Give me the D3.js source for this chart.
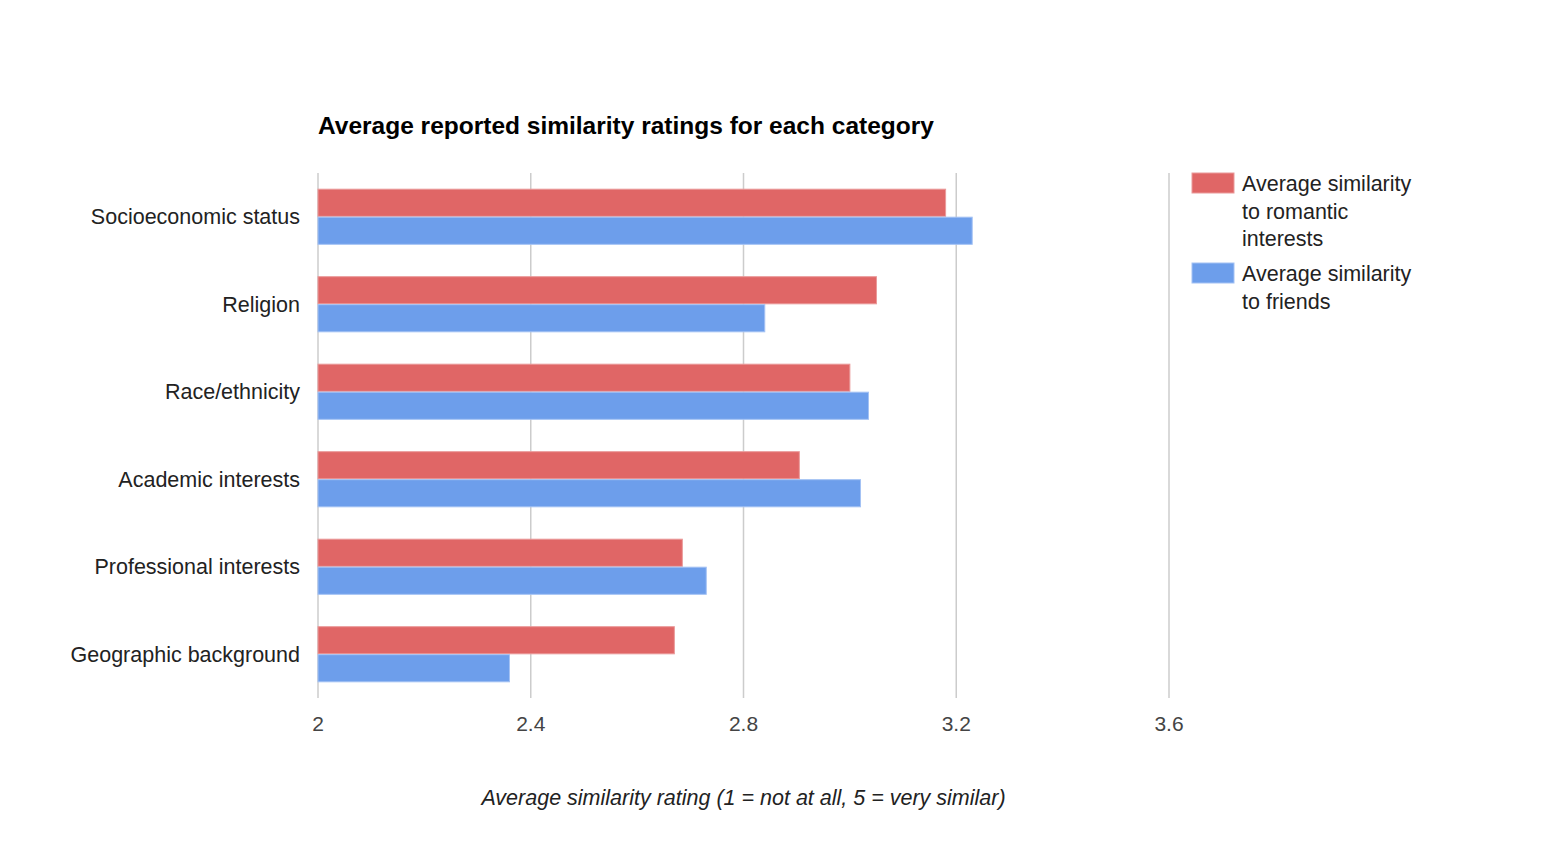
<!DOCTYPE html>
<html>
<head>
<meta charset="utf-8">
<script src="https://cdn.jsdelivr.net/npm/d3@7"></script>
<style>
  body { margin: 0; background: #fff; }
  text { font-family: "Liberation Sans", Arial, sans-serif; }
</style>
</head>
<body>
<svg id="chart"></svg>
<script>
// data
const categories = ["Socioeconomic status", "Religion", "Race/ethnicity",
    "Academic interests", "Professional interests", "Geographic background"];
const romantic = [3.18, 3.05, 3.00, 2.905, 2.685, 2.67];
const friends = [3.23, 2.84, 3.035, 3.02, 2.73, 2.36];
const seriesNames = ["Average similarity to romantic interests", "Average similarity to friends"];
const legendLines = [["Average similarity", "to romantic", "interests"], ["Average similarity", "to friends"]];
const xTicks = [2, 2.4, 2.8, 3.2, 3.6];
const colors = ["#e06666", "#6d9eeb"];
const strokes = ["#ea9a9a", "#a4c2f4"];

const width = 1560, height = 864;
const plotLeft = 318, plotRight = 1169, plotTop = 173, plotBottom = 698;

const svg = d3.select("#chart").attr("width", width).attr("height", height);

const x = d3.scaleLinear().domain([2, 3.6]).range([plotLeft, plotRight]);
const y = d3.scaleBand().domain(categories).range([plotTop, plotBottom])
    .paddingInner(0.37).paddingOuter(0.185);
const ySub = d3.scaleBand().domain([0, 1]).range([0, y.bandwidth()]).paddingInner(0.03);

// gridlines
svg.append("g").selectAll("line").data(xTicks).enter().append("line")
    .attr("x1", d => x(d)).attr("x2", d => x(d))
    .attr("y1", plotTop).attr("y2", plotBottom)
    .attr("stroke", "#cccccc").attr("stroke-width", 1.5);

// bars
const rows = categories.map((c, i) => ({cat: c, vals: [romantic[i], friends[i]]}));
const groups = svg.append("g").selectAll("g").data(rows).enter().append("g")
    .attr("transform", d => "translate(0," + y(d.cat) + ")");

groups.selectAll("rect").data(d => d.vals).enter().append("rect")
    .attr("x", x(2))
    .attr("y", (d, i) => ySub(i))
    .attr("width", d => x(d) - x(2))
    .attr("height", ySub.bandwidth())
    .attr("fill", (d, i) => colors[i])
    .attr("stroke", (d, i) => strokes[i])
    .attr("stroke-width", 1);

// category labels
svg.append("g").selectAll("text").data(categories).enter().append("text")
    .attr("x", 300)
    .attr("y", d => y(d) + y.bandwidth() / 2)
    .attr("dy", "0.35em")
    .attr("text-anchor", "end")
    .style("font-size", "21.5px")
    .attr("fill", "#222")
    .text(d => d);

// tick labels
svg.append("g").selectAll("text").data(xTicks).enter().append("text")
    .attr("x", d => x(d))
    .attr("y", 731)
    .attr("text-anchor", "middle")
    .style("font-size", "21px")
    .attr("fill", "#444")
    .text(d => d);

// title
svg.append("text")
    .attr("x", plotLeft).attr("y", 134)
    .style("font-size", "24.5px").style("font-weight", "bold")
    .attr("fill", "#000")
    .text("Average reported similarity ratings for each category");

// axis title
svg.append("text")
    .attr("x", (plotLeft + plotRight) / 2).attr("y", 805)
    .attr("text-anchor", "middle")
    .style("font-size", "21.5px").style("font-style", "italic")
    .attr("fill", "#222")
    .text("Average similarity rating (1 = not at all, 5 = very similar)");

// legend
const legendY = [173, 263];
const legend = svg.append("g").selectAll("g").data(seriesNames).enter().append("g")
    .attr("transform", (d, i) => "translate(1192," + legendY[i] + ")");

legend.append("rect")
    .attr("width", 42).attr("height", 20)
    .attr("fill", (d, i) => colors[i])
    .attr("stroke", (d, i) => strokes[i]);

legend.append("text")
    .attr("x", 50).attr("y", 18)
    .style("font-size", "21.5px")
    .attr("fill", "#222")
    .selectAll("tspan").data((d, i) => legendLines[i]).enter().append("tspan")
    .attr("x", 50)
    .attr("dy", (d, j) => j === 0 ? 0 : 27.5)
    .text(d => d);
</script>
</body>
</html>
